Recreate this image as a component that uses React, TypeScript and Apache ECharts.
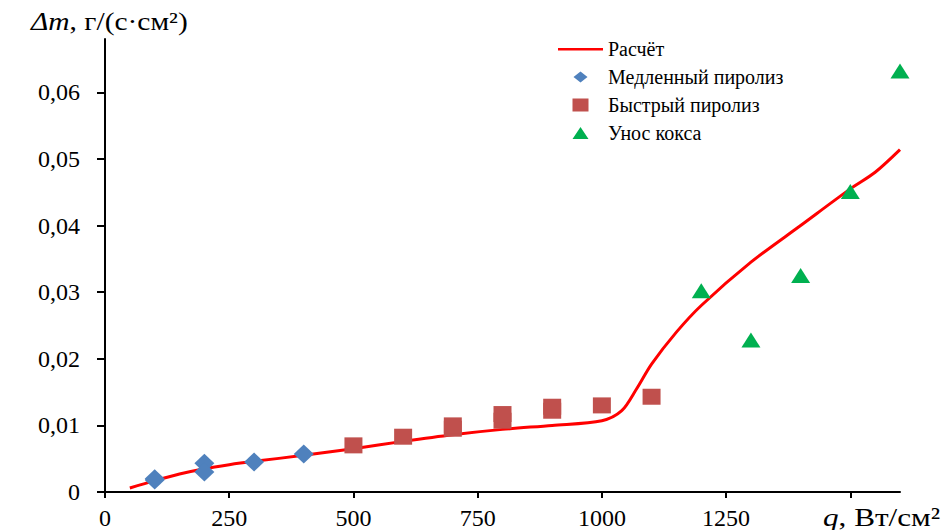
import React, { useEffect, useRef } from "react";
import * as echarts from "echarts";

const calcCurve: [number, number][] = [
  [50, 0.0006], [100, 0.0017], [150, 0.0027], [200, 0.0035], [250, 0.0041],
  [300, 0.0046], [400, 0.0055], [500, 0.0065], [600, 0.0076], [700, 0.0086],
  [800, 0.0094], [900, 0.0100], [1000, 0.0107], [1040, 0.0122], [1070, 0.0155],
  [1100, 0.0192], [1150, 0.0240], [1200, 0.0280], [1300, 0.0345], [1400, 0.0400],
  [1500, 0.0455], [1550, 0.0480], [1600, 0.0514],
];
const slowPyrolysis: [number, number][] = [
  [100, 0.0018], [100, 0.0020], [200, 0.0043], [200, 0.0030], [300, 0.0045], [400, 0.0057],
];
const fastPyrolysis: [number, number][] = [
  [500, 0.0070], [600, 0.0083], [700, 0.0095], [700, 0.0100], [800, 0.0107], [800, 0.0117],
  [900, 0.0122], [900, 0.0128], [1000, 0.0130], [1100, 0.0143],
];
const cokeRemoval: [number, number][] = [
  [1200, 0.0302], [1300, 0.0228], [1400, 0.0325], [1500, 0.0451], [1600, 0.0632],
];
const xTicks = [0, 250, 500, 750, 1000, 1250, 1500];
const xLabelTicks = [0, 250, 500, 750, 1000, 1250];
const yTicks = [0, 0.01, 0.02, 0.03, 0.04, 0.05, 0.06];
const seriesNames = ["Расчёт", "Медленный пиролиз", "Быстрый пиролиз", "Унос кокса"];

const FONT = "Liberation Serif";

// legend icons: 45x13 boxes with tiny invisible corner anchors, symbol in centre
const corners = "M0,0L0.01,0L0,0.01Z M45,13L44.99,13L45,12.99Z ";
const lineIcon = "path://" + corners + "M0,5.5L45,5.5L45,8L0,8Z";
const diamondIcon = "path://" + corners + "M22.5,1L29.5,6.5L22.5,12L15.5,6.5Z";
const squareIcon = "path://" + corners + "M14.5,0L30.5,0L30.5,13L14.5,13Z";
const triangleIcon = "path://" + corners + "M22.5,0.5L30.5,12.5L14.5,12.5Z";

export default function App() {
  const ref = useRef<HTMLDivElement>(null);
  useEffect(() => {
    if (!ref.current) return;
    const chart = echarts.init(ref.current, null, { renderer: "svg" });
    chart.setOption({
      animation: false,
      backgroundColor: "#ffffff",
      textStyle: { fontFamily: FONT, color: "#000" },
      grid: { left: 105, right: 41, top: 39, bottom: 38 },
      legend: {
        orient: "vertical",
        left: 553,
        top: 34,
        itemWidth: 45,
        itemHeight: 13,
        itemGap: 8,
        data: [
          { name: seriesNames[0], icon: lineIcon },
          { name: seriesNames[1], icon: diamondIcon },
          { name: seriesNames[2], icon: squareIcon },
          { name: seriesNames[3], icon: triangleIcon },
        ],
        textStyle: { fontFamily: FONT, fontSize: 20, color: "#000", lineHeight: 19 },
      },
      xAxis: {
        type: "value",
        min: 0,
        max: 1600,
        splitLine: { show: false },
        axisLine: { lineStyle: { color: "#000", width: 2 } },
        axisTick: { show: true, length: 6, lineStyle: { color: "#000", width: 2 }, customValues: xTicks },
        axisLabel: {
          customValues: xLabelTicks,
          fontFamily: FONT,
          fontSize: 24,
          color: "#000",
          margin: 14,
          formatter: (v: number) => String(v),
        },
      },
      yAxis: {
        type: "value",
        min: 0,
        max: 0.068,
        splitLine: { show: false },
        axisLine: { show: true, lineStyle: { color: "#000", width: 2 } },
        axisTick: { show: true, length: 8, lineStyle: { color: "#000", width: 2 }, customValues: yTicks },
        axisLabel: {
          customValues: yTicks,
          fontFamily: FONT,
          fontSize: 24,
          color: "#000",
          margin: 25,
          formatter: (v: number) => (v === 0 ? "0" : v.toFixed(2).replace(".", ",")),
        },
      },
      graphic: [
        {
          type: "text",
          left: 31,
          top: 9,
          scaleX: 1.18,
          style: {
            text: "{i|Δm}{n|, г/(с·см²)}",
            rich: {
              i: { fontFamily: FONT, fontSize: 25, fontStyle: "italic", fill: "#000" },
              n: { fontFamily: FONT, fontSize: 25, fill: "#000" },
            },
          },
        },
        {
          type: "text",
          left: 823,
          top: 504,
          scaleX: 1.2,
          style: {
            text: "{i|q}{n|, Вт/см²}",
            rich: {
              i: { fontFamily: FONT, fontSize: 26, fontStyle: "italic", fill: "#000" },
              n: { fontFamily: FONT, fontSize: 26, fill: "#000" },
            },
          },
        },
      ],
      series: [
        {
          name: seriesNames[0],
          type: "line",
          data: calcCurve,
          smooth: 0.3,
          symbol: "none",
          lineStyle: { color: "#FF0000", width: 3 },
          itemStyle: { color: "#FF0000" },
          z: 2,
        },
        {
          name: seriesNames[1],
          type: "scatter",
          data: slowPyrolysis,
          symbol: "diamond",
          symbolSize: [20, 19],
          itemStyle: { color: "#4F81BD", opacity: 1 },
          z: 3,
        },
        {
          name: seriesNames[2],
          type: "scatter",
          data: fastPyrolysis,
          symbol: "rect",
          symbolSize: [18, 16],
          itemStyle: { color: "#C0504D", opacity: 1 },
          z: 3,
        },
        {
          name: seriesNames[3],
          type: "scatter",
          data: cokeRemoval,
          symbol: "triangle",
          symbolSize: [19, 15],
          itemStyle: { color: "#00B050", opacity: 1 },
          z: 3,
        },
      ],
    });
    return () => chart.dispose();
  }, []);
  return <div ref={ref} style={{ width: 941, height: 530, position: "absolute", left: 0, top: 0 }} />;
}
